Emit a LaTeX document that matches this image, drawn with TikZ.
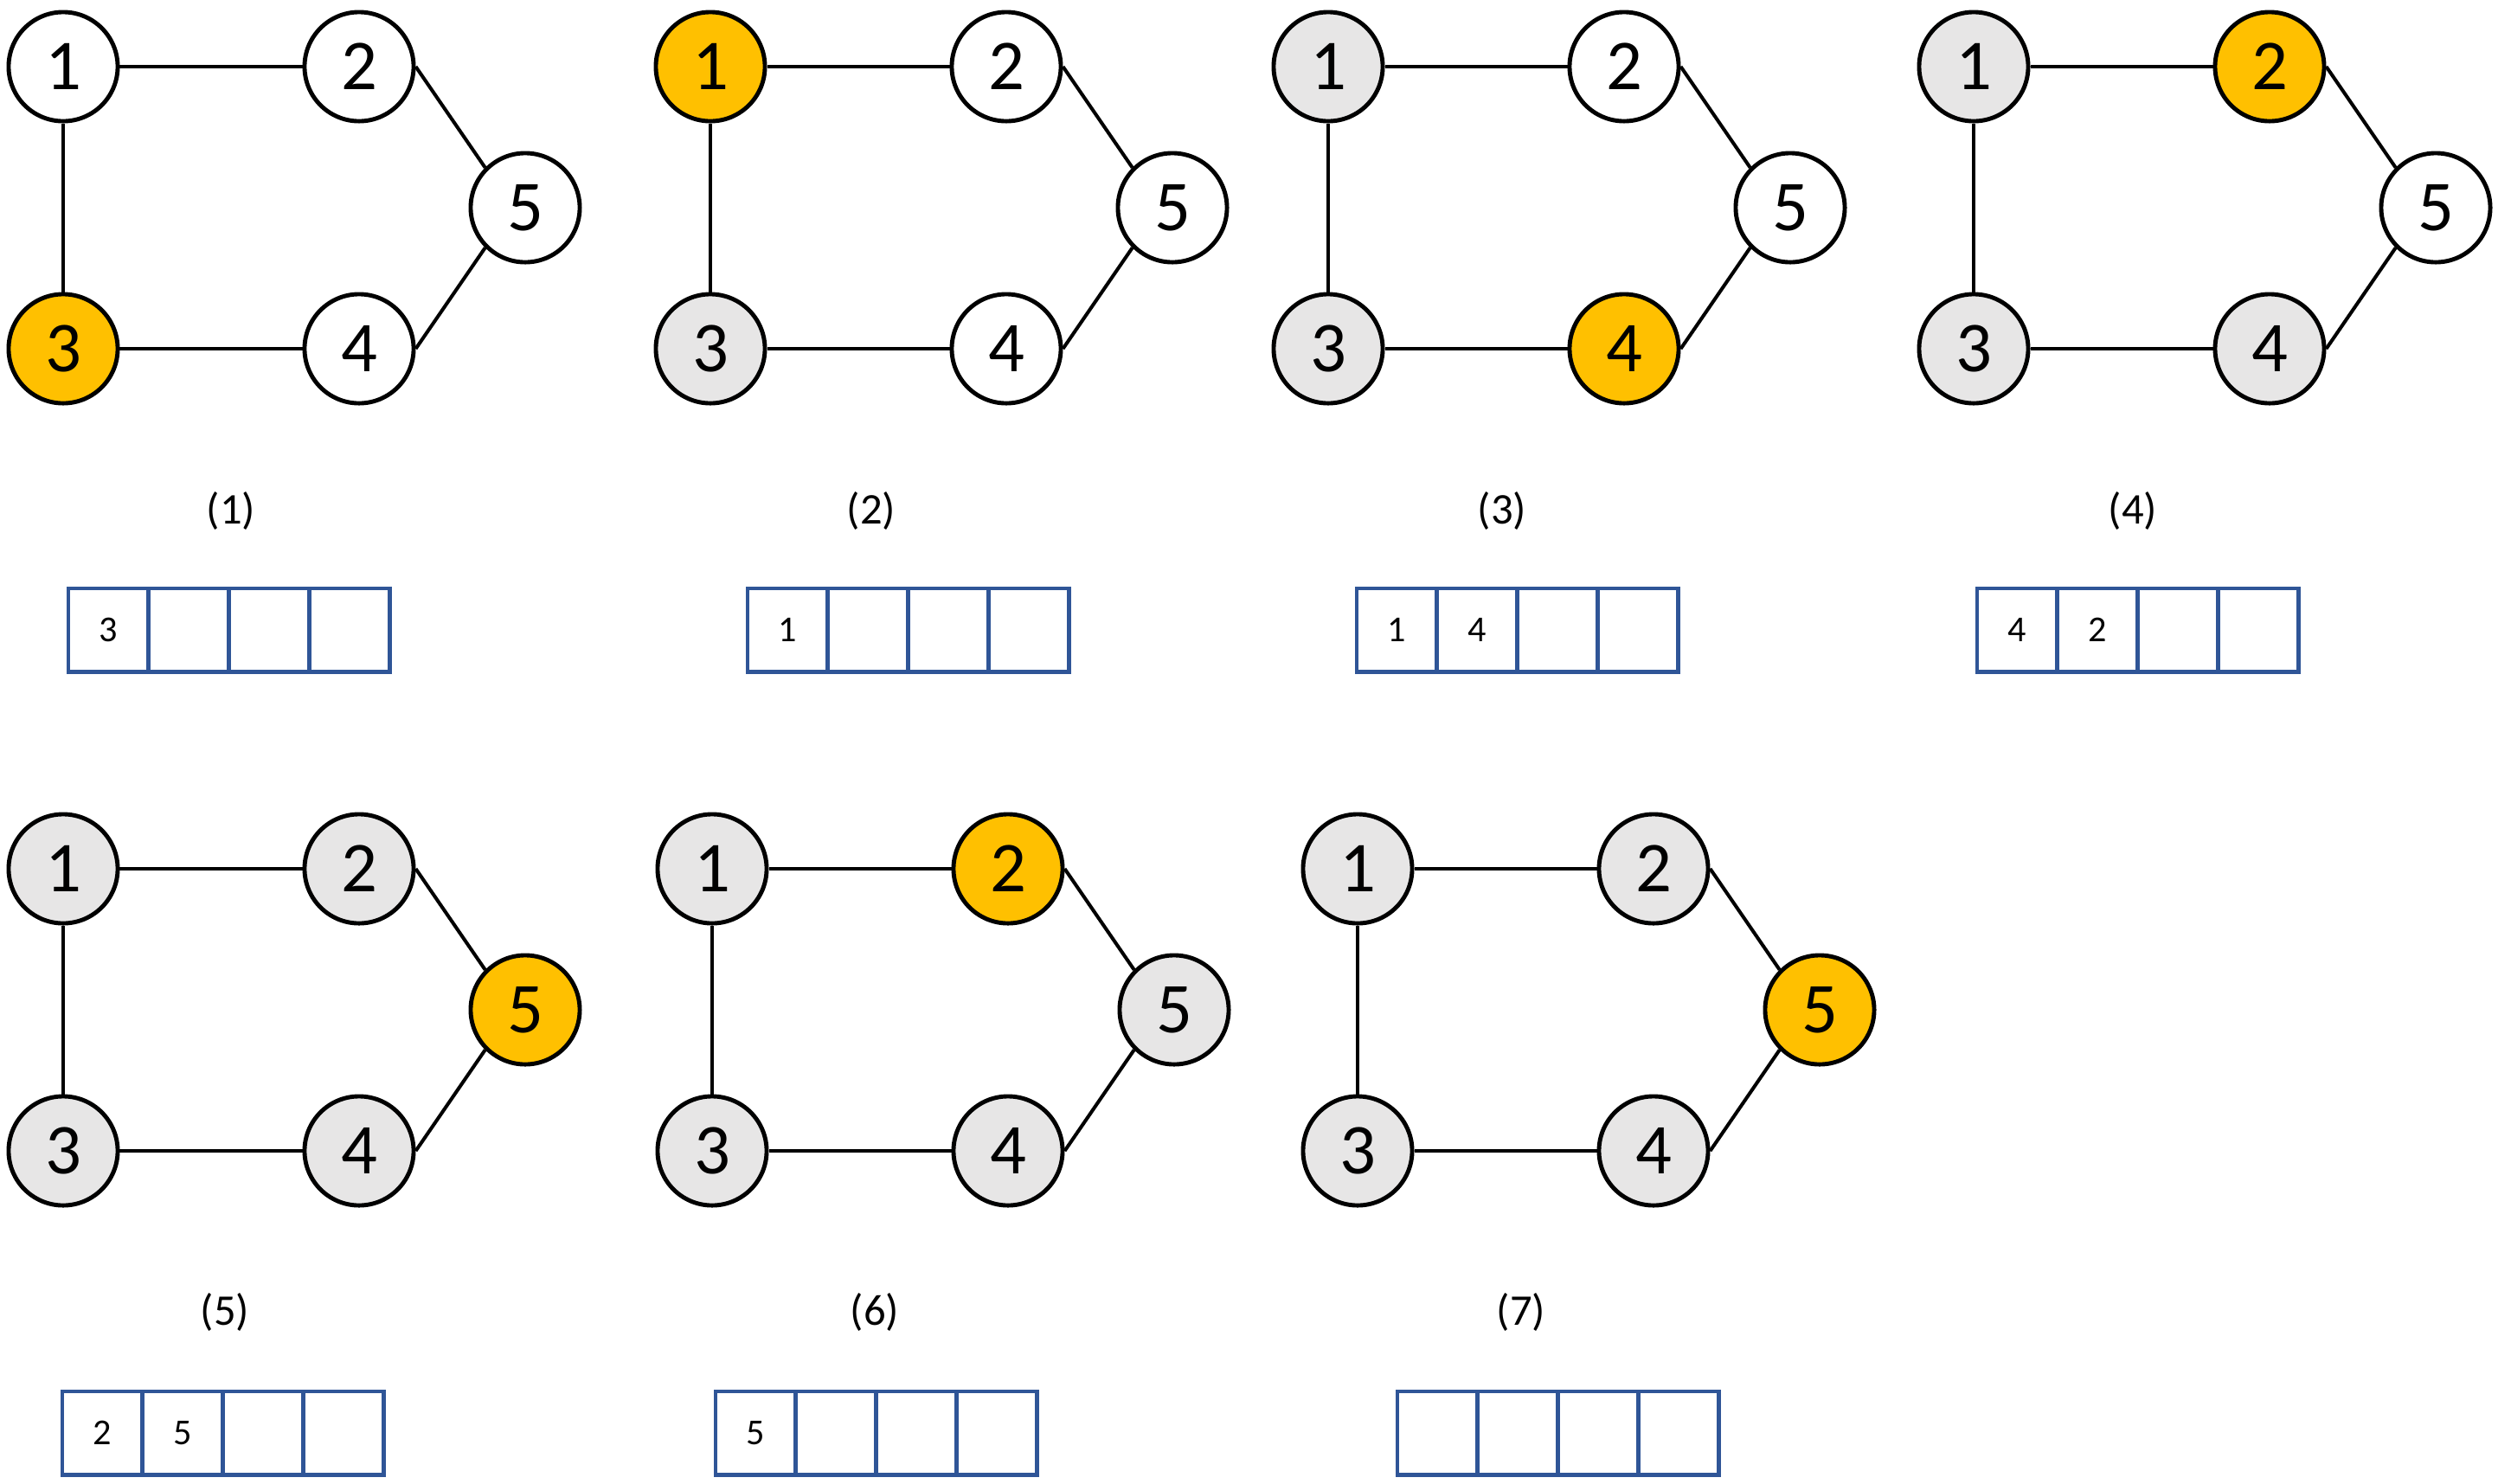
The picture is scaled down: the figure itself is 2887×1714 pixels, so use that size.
\documentclass[tikz,border=0pt]{standalone}
\usepackage{fontspec}
\setmainfont{Carlito}
\usepackage{tikz}
\usetikzlibrary{positioning}
\definecolor{visitgold}{RGB}{255,192,0}
\definecolor{visitgray}{RGB}{231,230,230}
\definecolor{queueblue}{RGB}{47,85,151}

\begin{document}
\begin{tikzpicture}[x=0.01cm, y=-0.01cm,
        vnew/.style={circle, draw=black, line width=1.4pt, fill=white, minimum size=1.26cm, inner sep=0pt, font=\fontsize{23.5}{28}\selectfont},
        vseen/.style={vnew, fill=visitgray},
        vnow/.style={vnew, fill=visitgold},
        gedge/.style={line width=1.15pt, color=black},
        steplabel/.style={font=\fontsize{14.4}{17}\selectfont},
        qcell/.style={rectangle, draw=queueblue, line width=1.4pt, minimum width=0.928cm, minimum height=0.965cm, inner sep=0pt, outer sep=0pt, font=\fontsize{12}{14}\selectfont}
    ]
        \useasboundingbox (0,0) rectangle (2887,1714);

        % graph of each step
        \foreach \i/\px/\py/\sa/\sb/\sc/\sd/\se in {
            1/73/77/vnew/vnew/vnow/vnew/vnew,
            2/821/77/vnow/vnew/vseen/vnew/vnew,
            3/1535/77/vseen/vnew/vseen/vnow/vnew,
            4/2281/77/vseen/vnow/vseen/vseen/vnew,
            5/73/1004/vseen/vseen/vseen/vseen/vnow,
            6/823/1004/vseen/vnow/vseen/vseen/vseen,
            7/1569/1004/vseen/vseen/vseen/vseen/vnow}{
            \begin{scope}[shift={(\px,\py)}]
                \node[\sa] (g\i-1) at (0,0) {1};
                \node[\sb] (g\i-2) at (342,0) {2};
                \node[\sc] (g\i-3) at (0,326) {3};
                \node[\sd] (g\i-4) at (342,326) {4};
                \node[\se] (g\i-5) at (534,163) {5};
            \end{scope}
            \draw[gedge] (g\i-1) -- (g\i-2);
            \draw[gedge] (g\i-1) -- (g\i-3);
            \draw[gedge] (g\i-3) -- (g\i-4);
            \draw[gedge] (g\i-2.east) -- (g\i-5.north west);
            \draw[gedge] (g\i-4.east) -- (g\i-5.south west);
        }

        % step number and queue
        \foreach \i/\lx/\ly/\qx/\qy/\qa/\qb in {
            1/267/590/79/680/3/{},
            2/1007/590/864/680/1/{},
            3/1736/590/1568/680/1/4,
            4/2465/590/2285/680/4/2,
            5/260/1516/72/1608/2/5,
            6/1011/1516/827/1608/5/{},
            7/1758/1516/1615/1608/{}/{}}{
            \node[steplabel] (lab\i) at (\lx,\ly) {(\i)};
            \node[qcell, anchor=north west] (q\i-1) at (\qx,\qy) {\qa};
            \node[qcell, right=0pt of q\i-1] (q\i-2) {\qb};
            \node[qcell, right=0pt of q\i-2] (q\i-3) {};
            \node[qcell, right=0pt of q\i-3] (q\i-4) {};
        }
    \end{tikzpicture}
\end{document}
